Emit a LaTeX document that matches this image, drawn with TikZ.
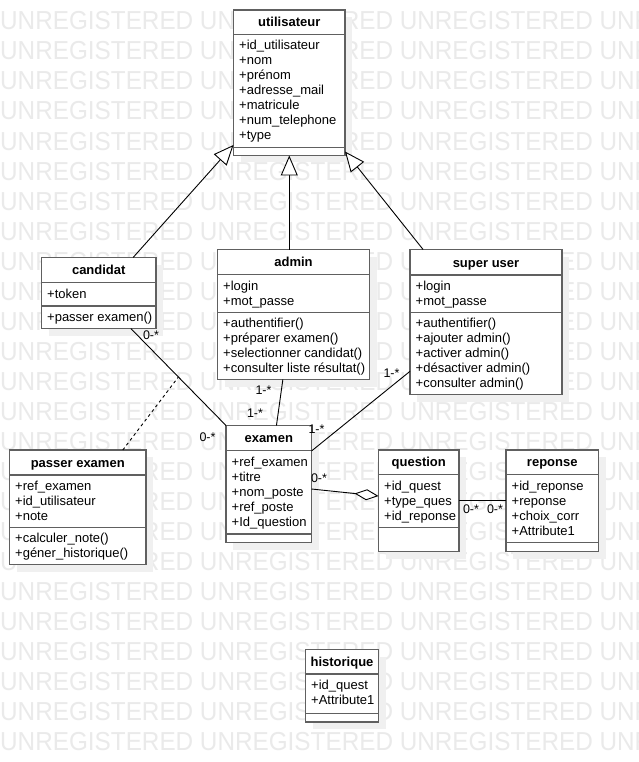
\documentclass[tikz,border=0pt]{standalone}
\usepackage{fontspec}
\setmainfont{Liberation Sans}
\usetikzlibrary{arrows.meta,calc}
\definecolor{wm}{RGB}{234,234,234}
\definecolor{shadowc}{RGB}{240,240,240}
\definecolor{bordc}{RGB}{96,96,96}
\tikzset{
  box/.style={draw=bordc, line width=1.6pt, fill=white, inner sep=0pt, outer sep=0pt},
  sepline/.style={draw=bordc, line width=1.6pt},
  shad/.style={fill=shadowc},
  ttl/.style={font=\fontsize{13}{15}\selectfont\bfseries, inner sep=0pt, anchor=base},
  txt/.style={font=\fontsize{13}{15}\selectfont, inner sep=0pt, anchor=base west},
  lbl/.style={font=\fontsize{12.5}{14}\selectfont, inner sep=0pt},
  assoc/.style={draw=black, line width=0.9pt},
  gen/.style={assoc, -{Triangle[open, length=20pt, width=17pt, fill=white]}},
  agg/.style={assoc, -{Diamond[open, length=24pt, width=11pt, fill=white]}},
  dep/.style={assoc, dash pattern=on 3pt off 3pt},
  wmtext/.style={font=\fontsize{24.3}{26}\selectfont, text=wm, inner sep=0pt, anchor=base west}
}
% #1 name, #2 L, #3 T, #4 R, #5 B, #6 S1, #7 S2, #8 title
\newcommand\umlcls[8]{%
  \fill[shad] (#2+7,#3+7) rectangle (#4+7,#5+7);
  \node[box, anchor=north west, minimum width={(#4)-(#2)}, minimum height={(#5)-(#3)}] (#1) at (#2,#3) {};
  \draw[sepline] (#2,#6) -- (#4,#6);
  \draw[sepline] (#2,#7) -- (#4,#7);
  \node[ttl] (#1-title) at ({(#2+#4)/2},{#6-7.6}) {#8};
}
% #1 prefix, #2 x, #3 first baseline, #4 list
\newcommand\umlrows[4]{%
  \foreach \tx [count=\i] in {#4} {\node[txt] (#1-\i) at (#2,{#3+15*(\i-1)}) {\tx};}
}
\begin{document}
\begin{tikzpicture}[x=1pt,y=-1pt]
\useasboundingbox (0,0) rectangle (638,762);
\fill[white] (0,0) rectangle (638,762);
\begin{scope}
\clip (0,0) rectangle (638,762);
\foreach \k in {0,...,24} {\node[wmtext] (wm\k) at (0,{30+30*\k}) {\scalebox{1}[1.07]{UNREGISTERED UNREGISTERED UNREGISTERED UNREGISTERED}};}
\end{scope}

% classes
\umlcls{util}{233.5}{10}{345}{155.5}{34.5}{147.5}{utilisateur}
\umlrows{utila}{239}{50}{+id\_utilisateur,+nom,+prénom,+adresse\_mail,+matricule,+num\_telephone,+type}

\umlcls{cand}{41.5}{257.5}{156}{328.5}{282.5}{306}{candidat}
\umlrows{canda}{47}{298}{+token}
\umlrows{cando}{47}{321}{+passer examen()}

\umlcls{admin}{217.5}{249.5}{369.5}{379.5}{274.5}{312.5}{admin}
\umlrows{admina}{223}{290}{+login,+mot\_passe}
\umlrows{admino}{223}{327.5}{+authentifier(),+préparer examen(),+selectionner candidat(),+consulter liste résultat()}

\umlcls{super}{410}{249.5}{562}{394.5}{275}{312.5}{super user}
\umlrows{supera}{415.5}{290.5}{+login,+mot\_passe}
\umlrows{supero}{415.5}{327.5}{+authentifier(),+ajouter admin(),+activer admin(),+désactiver admin(),+consulter admin()}

\umlcls{passer}{9.5}{450}{146}{564.5}{475}{527.5}{passer examen}
\umlrows{passera}{15}{490.5}{+ref\_examen,+id\_utilisateur,+note}
\umlrows{passero}{15}{542.5}{+calculer\_note(),+géner\_historique()}

\umlcls{exam}{226}{425.5}{311.5}{542.5}{450.5}{534}{examen}
\umlrows{exama}{231.5}{466}{+ref\_examen,+titre,+nom\_poste,+ref\_poste,+Id\_question}

\umlcls{quest}{378.5}{450}{459}{551.5}{474.5}{527.5}{question}
\umlrows{questa}{384}{490}{+id\_quest,+type\_ques,+id\_reponse}

\umlcls{rep}{506}{450}{598.5}{551.5}{474.5}{542.5}{reponse}
\umlrows{repa}{511.5}{490}{+id\_reponse,+reponse,+choix\_corr,+Attribute1}

\umlcls{hist}{305.5}{649.5}{378.5}{722}{674}{713.5}{historique}
\umlrows{hista}{311}{689.5}{+id\_quest,+Attribute1}

% generalizations
\draw[gen] ($(cand.north west)!0.8!(cand.north east)$) -- ($(util.south west)+(0,-10.5)$);
\draw[gen] (util.south |- admin.north) -- (util.south);
\draw[gen] ($(super.north west)!0.086!(super.north east)$) -- ($(util.south east)+(0,-4)$);

% associations
\coordinate (cs) at ($(cand.south west)!0.78!(cand.south east)$);
\draw[assoc] (cs) -- (exam.north west);
\coordinate (mid) at ($(cs)!0.5!(exam.north west)$);
\draw[dep] ($(passer.north west)!0.83!(passer.north east)$) -- (mid);
\draw[assoc] ($(admin.south west)!0.43!(admin.south east)$) -- ($(exam.north west)!0.59!(exam.north east)$);
\draw[assoc] ($(super.north west)!0.84!(super.south west)$) -- ($(exam.north east)+(0,25.5)$);
\draw[agg] ($(exam.north east)+(0,63.5)$) -- ($(quest.north west)+(0,46)$);
\draw[assoc] ($(quest.north east)+(0,50.7)$) -- ($(rep.north west)+(0,50.7)$);

% multiplicities
\node[lbl] (l1) at (151,335) {0-*};
\node[lbl] (l2) at (207.5,437.5) {0-*};
\node[lbl] (l3) at (263.5,390) {1-*};
\node[lbl] (l4) at (255,413) {1-*};
\node[lbl] (l5) at (391.5,373) {1-*};
\node[lbl] (l6) at (316.5,429) {1-*};
\node[lbl] (l7) at (319,478) {0-*};
\node[lbl] (l8) at (471,509) {0-*};
\node[lbl] (l9) at (495,509) {0-*};
\end{tikzpicture}
\end{document}
